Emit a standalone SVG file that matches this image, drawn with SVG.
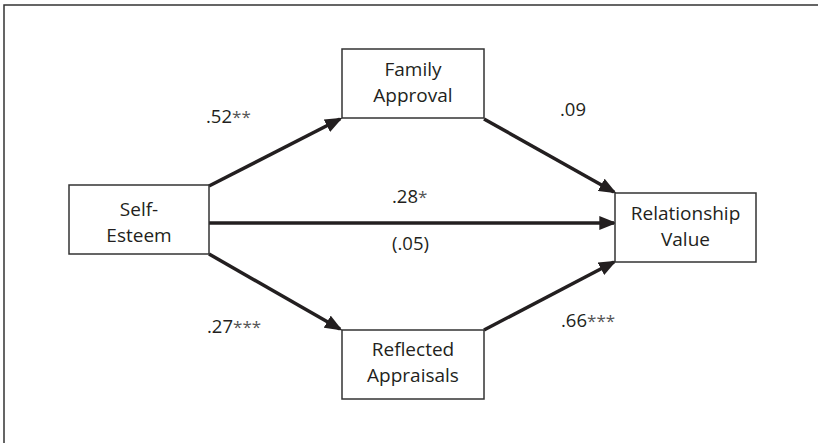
<svg xmlns="http://www.w3.org/2000/svg" width="818" height="443" viewBox="0 0 818 443">
<defs>
<style>
.box{fill:#fff;stroke:#333;stroke-width:1.5}
.t{font-family:"Open Sans","Liberation Sans",sans-serif;font-size:19px;fill:#231f20;text-anchor:middle}
.l{font-family:"Open Sans","Liberation Sans",sans-serif;font-size:18.5px;fill:#231f20}
.s{font-size:17px;fill:#555}
.e{stroke:#231f20;stroke-width:3.5;fill:none;marker-end:url(#ah)}
</style>
<marker id="ah" markerWidth="5" markerHeight="4" refX="4.2" refY="2" orient="auto" markerUnits="strokeWidth">
<path d="M0,0 L5,2 L0,4 Z" fill="#231f20"/>
</marker>
</defs>
<rect width="818" height="443" fill="#fff"/>
<rect x="4" y="5" width="830" height="450" fill="none" stroke="#333" stroke-width="1.5"/>
<g id="connectors">
<line class="e" x1="209" y1="186" x2="340" y2="119"/>
<line class="e" x1="484" y1="119" x2="614" y2="192"/>
<line class="e" x1="209" y1="223" x2="614" y2="223"/>
<line class="e" x1="209" y1="254" x2="340" y2="329"/>
<line class="e" x1="484" y1="330" x2="614" y2="262"/>
</g>
<g id="self-esteem">
<rect class="box" x="69" y="185" width="140" height="69"/>
<text class="t" x="139" y="216">Self-</text>
<text class="t" x="139" y="242">Esteem</text>
</g>
<g id="family-approval">
<rect class="box" x="342" y="49" width="142" height="69"/>
<text class="t" x="413" y="76">Family</text>
<text class="t" x="413" y="102">Approval</text>
</g>
<g id="relationship-value">
<rect class="box" x="615" y="193" width="141" height="69"/>
<text class="t" x="685.5" y="220">Relationship</text>
<text class="t" x="685.5" y="246">Value</text>
</g>
<g id="reflected-appraisals">
<rect class="box" x="342" y="330" width="142" height="69"/>
<text class="t" x="413" y="356">Reflected</text>
<text class="t" x="413" y="382">Appraisals</text>
</g>
<g id="labels">
<text class="l" x="206" y="123">.52<tspan class="s">**</tspan></text>
<text class="l" x="560" y="116">.09</text>
<text class="l" x="392" y="203">.28<tspan class="s">*</tspan></text>
<text class="l" x="392" y="250">(.05)</text>
<text class="l" x="207" y="333">.27<tspan class="s">***</tspan></text>
<text class="l" x="561" y="327">.66<tspan class="s">***</tspan></text>
</g>
</svg>
